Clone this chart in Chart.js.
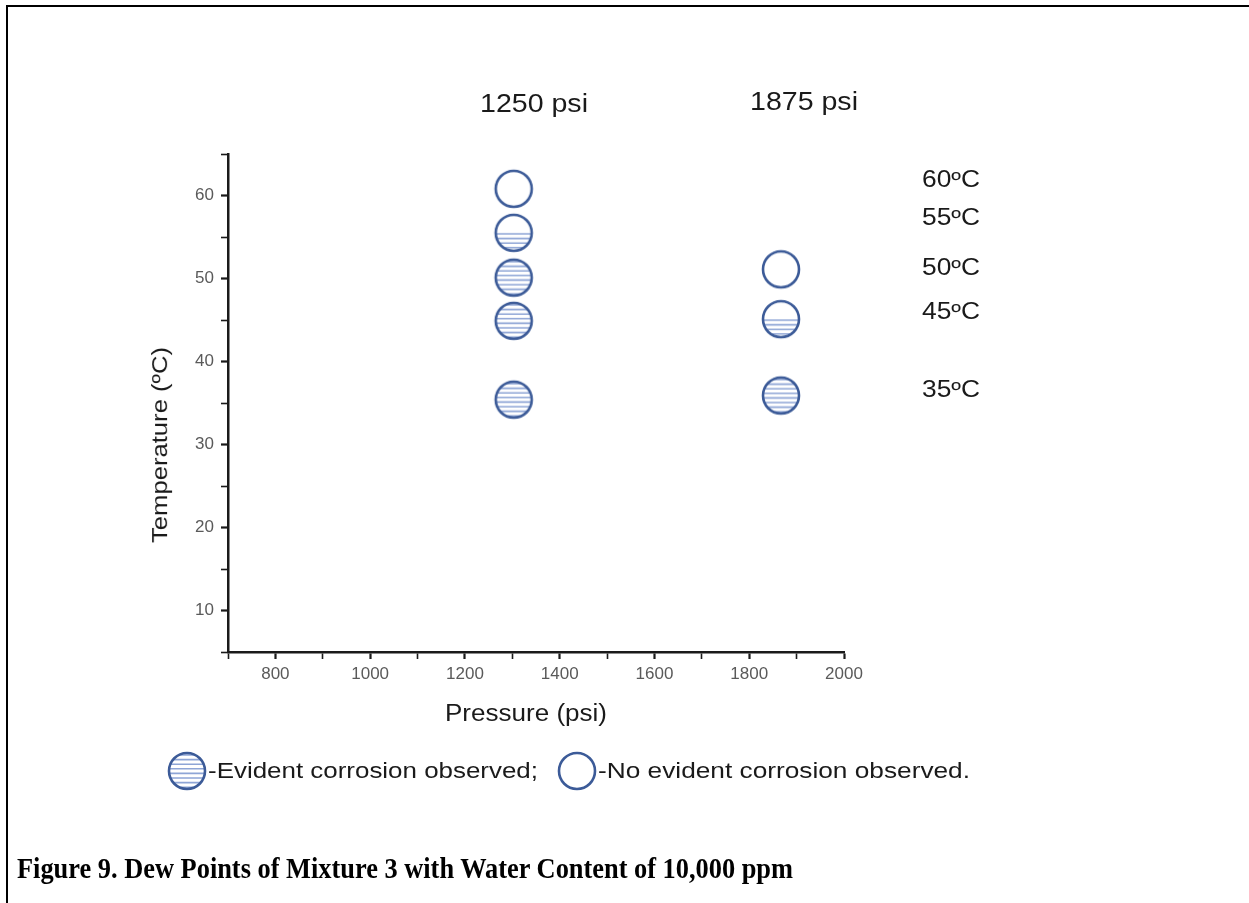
<!DOCTYPE html>
<html>
<head>
<meta charset="utf-8">
<title>Dew Points of Mixture 3</title>
<script src="https://cdn.jsdelivr.net/npm/chart.js@4"></script>
<style>
  html, body { margin: 0; padding: 0; background: #fff; }
  body { width: 1249px; height: 903px; position: relative; overflow: hidden; font-family: "Liberation Sans", Arial, sans-serif; }
  #frame { position: absolute; left: 6px; top: 5px; right: 0; bottom: 0; border-left: 2px solid #000; border-top: 2px solid #000; }
  #chart { position: absolute; left: 0; top: 0; }
  .txt { position: absolute; white-space: nowrap; color: #1a1a1a; line-height: 1; transform-origin: 0 0; }
  .legend { position: absolute; left: 166px; top: 751px; height: 40px; display: flex; align-items: center; }
  .legend canvas { display: block; }
  #caption { font-family: "Liberation Serif", "DejaVu Serif", serif; font-weight: bold; font-size: 30px; color: #000; }
</style>
</head>
<body>
<div id="frame"></div>
<canvas id="chart" width="1249" height="903"></canvas>

<div class="txt" style="left:480px; top:91px; font-size:25px" data-w="108">1250 psi</div>
<div class="txt" style="left:750px; top:89px; font-size:25px" data-w="108">1875 psi</div>

<div class="txt" style="left:922px; top:168px; font-size:23px" data-w="58">60ºC</div>
<div class="txt" style="left:922px; top:206px; font-size:23px" data-w="58">55ºC</div>
<div class="txt" style="left:922px; top:256px; font-size:23px" data-w="58">50ºC</div>
<div class="txt" style="left:922px; top:300px; font-size:23px" data-w="58">45ºC</div>
<div class="txt" style="left:922px; top:378px; font-size:23px" data-w="58">35ºC</div>

<div class="txt" style="left:445px; top:702px; font-size:23px" data-w="162">Pressure (psi)</div>
<div class="txt" id="ytitle" style="font-size:22px">Temperature (ºC)</div>

<div class="legend" id="legend"></div>

<div class="txt" id="caption" style="left:17px; top:853px" data-w="776">Figure 9. Dew Points of Mixture 3 with Water Content of 10,000 ppm</div>

<script>
// data
const columnPressure = [1303, 1867];
const temps1250 = [60.8, 55.5, 50.1, 44.9, 35.4];
const state1250 = ["none", "half", "full", "full", "full"];
const temps1875 = [51.1, 45.1, 35.9];
const state1875 = ["none", "half", "full"];

const xLabelTicks = [800, 1000, 1200, 1400, 1600, 1800, 2000];
const yLabelTicks = [10, 20, 30, 40, 50, 60];

const legendItems = ["-Evident corrosion observed;", "-No evident corrosion observed."];
const legendStates = ["full", "none"];

const ringColor = "#3c5b98";
const stripeColor = "#8ea5d6";

// hatched circle marker, drawn once per kind
function makeMarker(kind) {
  const r = 18;
  const s = 2 * r + 6;
  const c = document.createElement("canvas");
  c.width = s; c.height = s;
  const g = c.getContext("2d");
  const cx = s / 2;
  g.save();
  g.beginPath();
  g.arc(cx, cx, r, 0, Math.PI * 2);
  g.fillStyle = "#fff";
  g.fill();
  g.clip();
  if (kind !== "none") {
    const start = kind === "half" ? cx + 1 : cx - r + 2;
    g.strokeStyle = stripeColor;
    g.lineWidth = 1.6;
    for (let y = start; y < cx + r; y += 4.6) {
      g.beginPath();
      g.moveTo(0, y);
      g.lineTo(s, y);
      g.stroke();
    }
  }
  g.restore();
  g.beginPath();
  g.arc(cx, cx, r, 0, Math.PI * 2);
  g.strokeStyle = ringColor;
  g.lineWidth = 2.6;
  g.stroke();
  return c;
}

const markers = { none: makeMarker("none"), half: makeMarker("half"), full: makeMarker("full") };

function makeDataset(p, temps, states) {
  return {
    data: temps.map(t => ({ x: p, y: t })),
    pointStyle: ctx => markers[states[ctx.dataIndex]],
    pointRadius: 18,
    pointHoverRadius: 18
  };
}

const tickFont = { family: "Liberation Sans, Arial, sans-serif", size: 17 };

new Chart(document.getElementById("chart"), {
  type: "scatter",
  data: {
    datasets: [
      makeDataset(columnPressure[0], temps1250, state1250),
      makeDataset(columnPressure[1], temps1875, state1875)
    ]
  },
  options: {
    responsive: false,
    animation: false,
    layout: { padding: { left: 148, right: 405, top: 154, bottom: 171 } },
    plugins: { legend: { display: false }, tooltip: { enabled: false } },
    scales: {
      x: {
        type: "linear",
        min: 700,
        max: 2000,
        afterFit: s => { s.height = 80; },
        border: { display: true, color: "#1a1a1a", width: 2.5 },
        grid: {
          drawOnChartArea: false,
          drawTicks: true,
          tickLength: 7,
          tickColor: "#1a1a1a",
          tickWidth: ctx => xLabelTicks.includes(ctx.tick && ctx.tick.value) ? 2.2 : 1.6
        },
        ticks: {
          stepSize: 100,
          autoSkip: false,
          maxRotation: 0,
          padding: 5,
          color: "#5a5a5a",
          font: tickFont,
          callback: v => xLabelTicks.includes(v) ? String(v) : ""
        }
      },
      y: {
        type: "linear",
        min: 5,
        max: 65,
        afterFit: s => { s.width = 80; },
        border: { display: true, color: "#1a1a1a", width: 2.5 },
        grid: {
          drawOnChartArea: false,
          drawTicks: true,
          tickLength: 7,
          tickColor: "#1a1a1a",
          tickWidth: ctx => yLabelTicks.includes(ctx.tick && ctx.tick.value) ? 2.2 : 1.6
        },
        ticks: {
          stepSize: 5,
          autoSkip: false,
          padding: 7,
          color: "#5a5a5a",
          font: tickFont,
          callback: v => yLabelTicks.includes(v) ? String(v) : ""
        }
      }
    }
  }
});

// legend row under the chart
const legend = document.getElementById("legend");
legendItems.forEach((label, i) => {
  const icon = markers[legendStates[i]].cloneNode();
  icon.getContext("2d").drawImage(markers[legendStates[i]], 0, 0);
  const span = document.createElement("span");
  span.textContent = label;
  span.style.fontSize = "22px";
  span.style.color = "#1a1a1a";
  span.style.display = "inline-block";
  span.style.transformOrigin = "0 50%";
  span.dataset.w = i === 0 ? "330" : "372";
  legend.appendChild(icon);
  legend.appendChild(span);
});

// squeeze texts to the widths measured on the figure
document.querySelectorAll("[data-w]").forEach(el => {
  const w = +el.dataset.w;
  const actual = el.getBoundingClientRect().width;
  if (!actual) return;
  el.style.transform = "scaleX(" + (w / actual) + ")";
  if (el.parentElement.id === "legend") {
    el.style.marginRight = (w - actual + (el === legend.children[1] ? 18 : 0)) + "px";
  }
});

// rotated y-axis title, centred on x=160, y=445
const yt = document.getElementById("ytitle");
const ytw = yt.getBoundingClientRect().width;
yt.style.left = (160 - ytw / 2) + "px";
yt.style.top = (445 - 11) + "px";
yt.style.transformOrigin = "50% 50%";
yt.style.transform = "rotate(-90deg) scaleX(" + (196 / ytw) + ")";
</script>
</body>
</html>
